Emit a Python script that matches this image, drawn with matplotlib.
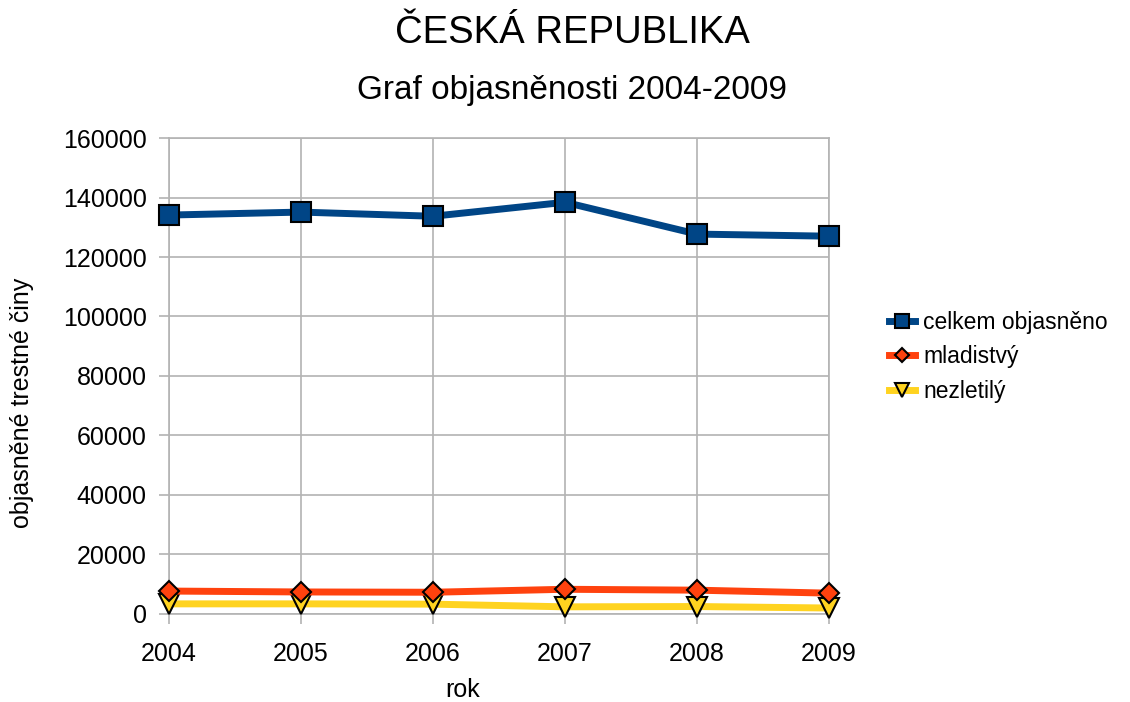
import matplotlib.pyplot as plt
import numpy as np

plt.rcParams['font.family'] = ['Liberation Sans', 'DejaVu Sans']

roky = [2004, 2005, 2006, 2007, 2008, 2009]
celkem = [134100, 135100, 133700, 138400, 127700, 127000]
mladistvy = [7700, 7400, 7300, 8300, 8000, 7000]
nezletily = [3400, 3400, 3300, 2400, 2500, 2000]

fig = plt.figure(figsize=(11.3, 7.02), dpi=100)
ax = fig.add_axes([0.1496, 0.1254, 0.5840, 0.6780])

ax.plot(roky, nezletily, color="#ffd320", lw=5, marker="v", ms=14,
        mfc="#ffd320", mec="black", mew=1.5, label="nezletilý", zorder=3,
        clip_on=False)
ax.plot(roky, mladistvy, color="#ff420e", lw=5, marker="D", ms=10,
        mfc="#ff420e", mec="black", mew=1.5, label="mladistvý", zorder=4,
        clip_on=False)
ax.plot(roky, celkem, color="#004586", lw=5, marker="s", ms=14,
        mfc="#004586", mec="black", mew=1.5, label="celkem objasněno", zorder=5,
        clip_on=False)

ax.set_xlim(2004, 2009)
ax.set_ylim(0, 160000)
ax.set_yticks(np.arange(0, 160001, 20000))
ax.set_xticks(roky)
ax.grid(True, color="#b3b3b3", lw=1.2)
ax.set_axisbelow(True)
for s in ax.spines.values():
    s.set_color("#b3b3b3")
    s.set_linewidth(1.2)
ax.tick_params(axis="both", colors="#b3b3b3", length=7, width=1.2,
               labelcolor="black", labelsize=18)
ax.tick_params(axis="x", pad=13)
ax.tick_params(axis="y", pad=9)

ax.set_xlabel("rok", fontsize=18)
ax.set_ylabel("objasněné trestné činy", fontsize=18)
ax.xaxis.set_label_coords((463 - 169) / 660, -(690 - 614) / 476)
ax.yaxis.set_label_coords(-(169 - 22) / 660, (614 - 403) / 476)
ax.xaxis.label.set_va("center")
ax.yaxis.label.set_va("center")

fig.text(572 / 1130, 1 - 33 / 702, "ČESKÁ REPUBLIKA", ha="center", va="center", fontsize=27.5)
fig.text(572 / 1130, 1 - 90 / 702, "Graf objasněnosti 2004-2009", ha="center", va="center", fontsize=24)

h, l = ax.get_legend_handles_labels()
fig.legend(h[::-1], l[::-1], loc="center left", bbox_to_anchor=(889 / 1130, 1 - 357 / 702),
           frameon=False, fontsize=16.5, handlelength=1.15, handletextpad=0.35,
           labelspacing=0.5, markerscale=0.75, borderpad=0, borderaxespad=0)

fig.savefig("out.png", dpi=100)
